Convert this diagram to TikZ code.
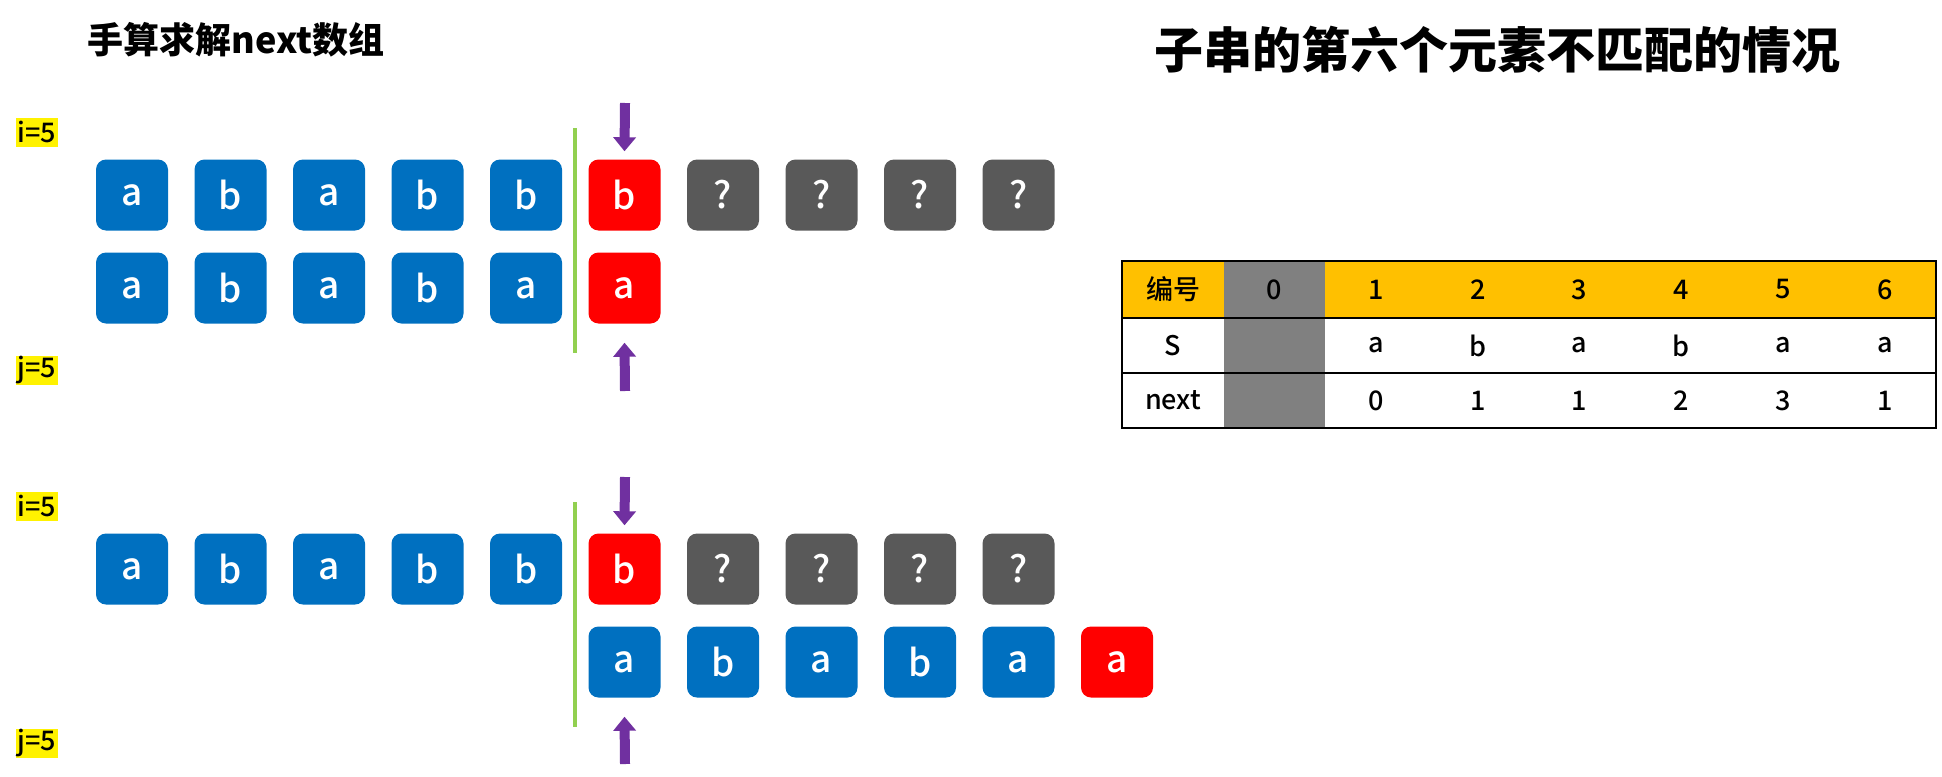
\documentclass[tikz,border=0pt]{standalone}
\usepackage{fontspec}
\setmainfont{Noto Sans CJK SC}
\newfontfamily\mediumFont{Noto Sans CJK SC Medium}
\usetikzlibrary{positioning,arrows.meta}
\tikzstyle{screen} = [x = 1pt, y = -1pt]
\definecolor{boxBlue}{RGB}{0,112,192}
\definecolor{boxRed}{RGB}{255,0,0}
\definecolor{boxGray}{RGB}{89,89,89}
\definecolor{pointerPurple}{RGB}{112,48,160}
\definecolor{dividerGreen}{RGB}{146,208,80}
\definecolor{headOrange}{RGB}{255,192,0}
\definecolor{slotGray}{RGB}{128,128,128}
\tikzstyle{charBox} = [minimum width = 72pt, minimum height = 71pt, inner sep = 0pt, rounded corners = 10pt, text = white, font = \mediumFont\fontsize{37}{37}\selectfont]
\tikzstyle{blueBox} = [charBox, fill = boxBlue]
\tikzstyle{redBox} = [charBox, fill = boxRed]
\tikzstyle{grayBox} = [charBox, fill = boxGray]
\tikzstyle{indexTag} = [fill = yellow, inner xsep = 1pt, inner ysep = 0pt, minimum width = 42pt, minimum height = 29pt, font = \mediumFont\fontsize{27}{27}\selectfont]
\tikzstyle{pointer} = [color = pointerPurple, line width = 10pt, -{Triangle[width = 22pt, length = 14pt]}]
\tikzstyle{divider} = [color = dividerGreen, line width = 3.5pt]
\tikzstyle{tableLine} = [color = black, line width = 1.5pt]
\tikzstyle{tableText} = [font = \mediumFont\fontsize{27}{27}\selectfont]
\newcommand{\pitch}{98.5}
\newcommand{\charCell}[5]{\node [#5] (#1) at (132 + \pitch * #2, #3) {#4};}
\newcommand{\downPointer}[3]{\coordinate (#1) at (#3); \draw [pointer] (#1) -- ([yshift = 8pt]#2.north);}
\newcommand{\upPointer}[3]{\coordinate (#1) at (#3); \draw [pointer] (#1) -- ([yshift = -19pt]#2.south);}
\newcommand{\tableCol}[1]{\ifnum#1=0 1173\else\ifnum#1=1 1274.5\else 1325 + 101.83 * #1 - 152.75\fi\fi}

\begin{document}
\begin{tikzpicture}[screen]
  \useasboundingbox (0,0) rectangle (1942,776);

  % titles
  \node [font = \fontsize{36}{36}\selectfont\bfseries] (leftTitle) at (236,40) {手算求解next数组};
  \node [font = \fontsize{49}{49}\selectfont\bfseries] (rightTitle) at (1497,50) {子串的第六个元素不匹配的情况};

  % first case
  \foreach \ch [count = \k from 0] in {a,b,a,b,b} {\charCell{up-main-\k}{\k}{195}{\ch}{blueBox}}
  \charCell{up-main-5}{5}{195}{b}{redBox}
  \foreach \k in {6,...,9} {\charCell{up-main-\k}{\k}{195}{?}{grayBox}}
  \foreach \ch [count = \k from 0] in {a,b,a,b,a} {\charCell{up-sub-\k}{\k}{288}{\ch}{blueBox}}
  \charCell{up-sub-5}{5}{288}{a}{redBox}
  \node [indexTag] (up-i) at (37,132) {i=5};
  \node [indexTag] (up-j) at (37,370) {j=5};
  \coordinate (up-cutTop) at (575,128);
  \coordinate (up-cutBottom) at (575,353);
  \draw [divider] (up-cutTop) -- (up-cutBottom);
  \downPointer{up-iTail}{up-main-5}{625,103}
  \upPointer{up-jTail}{up-sub-5}{625,391}

  % second case, substring moved
  \foreach \ch [count = \k from 0] in {a,b,a,b,b} {\charCell{low-main-\k}{\k}{569}{\ch}{blueBox}}
  \charCell{low-main-5}{5}{569}{b}{redBox}
  \foreach \k in {6,...,9} {\charCell{low-main-\k}{\k}{569}{?}{grayBox}}
  \foreach \ch [count = \k from 5] in {a,b,a,b,a} {\charCell{low-sub-\k}{\k}{662}{\ch}{blueBox}}
  \charCell{low-sub-10}{10}{662}{a}{redBox}
  \node [indexTag] (low-i) at (37,506) {i=5};
  \node [indexTag] (low-j) at (37,743) {j=5};
  \coordinate (low-cutTop) at (575,502);
  \coordinate (low-cutBottom) at (575,727);
  \draw [divider] (low-cutTop) -- (low-cutBottom);
  \downPointer{low-iTail}{low-main-5}{625,477}
  \upPointer{low-jTail}{low-sub-5}{625,764}

  % next table
  \fill [headOrange] (1122,261) rectangle (1936,318);
  \fill [slotGray] (1224,261) rectangle (1325,428);
  \draw [tableLine] (1122,261) rectangle (1936,428);
  \draw [tableLine] (1122,318) -- (1936,318);
  \draw [tableLine] (1122,373) -- (1936,373);
  \foreach \txt [count = \c from 0] in {编号,0,1,2,3,4,5,6} {\node [tableText] (tab-0-\c) at (\tableCol{\c},289.5) {\txt};}
  \foreach \txt [count = \c from 0] in {S,{},a,b,a,b,a,a} {\node [tableText] (tab-1-\c) at (\tableCol{\c},345.5) {\txt};}
  \foreach \txt [count = \c from 0] in {next,{},0,1,1,2,3,1} {\node [tableText] (tab-2-\c) at (\tableCol{\c},400.5) {\txt};}
\end{tikzpicture}
\end{document}
